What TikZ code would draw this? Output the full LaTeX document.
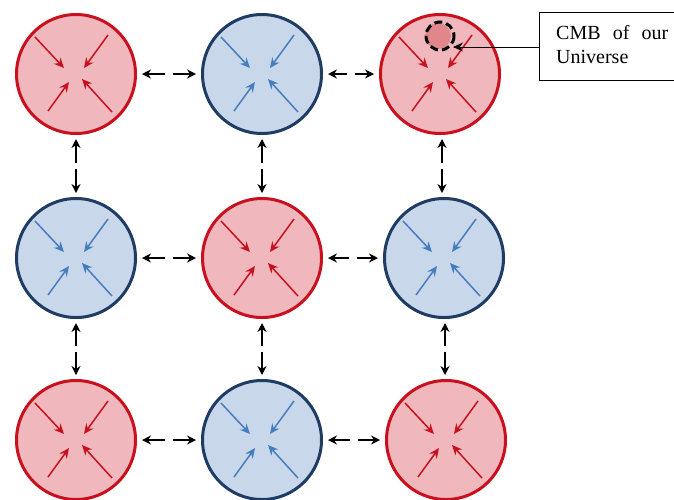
\documentclass[tikz,border=0pt]{standalone}
\usepackage{fontspec}
\setmainfont{Liberation Serif}
\usetikzlibrary{arrows.meta,calc}
\definecolor{redline}{RGB}{200,16,30}
\definecolor{redfill}{RGB}{240,183,188}
\definecolor{redarrow}{RGB}{200,16,30}
\definecolor{blueline}{RGB}{30,60,100}
\definecolor{bluefill}{RGB}{200,216,234}
\definecolor{bluearrow}{RGB}{70,125,190}
\definecolor{cmbfill}{RGB}{225,135,140}
\tikzset{
  redu/.style={circle,draw=redline,fill=redfill,line width=3pt,minimum size=119pt,inner sep=0pt},
  blueu/.style={circle,draw=blueline,fill=bluefill,line width=3pt,minimum size=119pt,inner sep=0pt},
  link/.style={line width=1.4pt,-{Stealth[length=9pt,width=9pt]}},
  inarrow/.style={line width=1.5pt,-{Stealth[length=10pt,width=9pt]}},
  notetext/.style={inner sep=0pt,font=\fontsize{20}{24}\selectfont}
}
\newcommand{\inward}[2]{%
  \draw[inarrow,#2] ($(#1)+(-41,-37)$) -- ($(#1)+(-12,-6)$);
  \draw[inarrow,#2] ($(#1)+(32,-39)$) -- ($(#1)+(8,-6)$);
  \draw[inarrow,#2] ($(#1)+(-28,37)$) -- ($(#1)+(-7,8)$);
  \draw[inarrow,#2] ($(#1)+(36,38)$) -- ($(#1)+(6,5)$);
}
\begin{document}
\begin{tikzpicture}[x=1pt,y=-1pt]
\useasboundingbox (0,0) rectangle (674,499);
\node[redu]  (c11) at (76,74) {};
\node[blueu] (c12) at (262,74) {};
\node[redu]  (c13) at (440,74) {};
\node[blueu] (c21) at (76,258) {};
\node[redu]  (c22) at (262,258) {};
\node[blueu] (c23) at (444,258) {};
\node[redu]  (c31) at (76,440) {};
\node[blueu] (c32) at (262,440) {};
\node[redu]  (c33) at (446,440) {};
\inward{c11}{redarrow}
\inward{c12}{bluearrow}
\inward{c13}{redarrow}
\inward{c21}{bluearrow}
\inward{c22}{redarrow}
\inward{c23}{bluearrow}
\inward{c31}{redarrow}
\inward{c32}{bluearrow}
\inward{c33}{redarrow}
% horizontal links
\foreach \a/\b in {c11/c12,c12/c13,c21/c22,c22/c23,c31/c32,c32/c33}{
  \coordinate (m) at ($(\a.east)!0.5!(\b.west)$);
  \draw[link,shorten >=5pt] ($(m)+(-4,0)$) -- (\a.east |- m);
  \draw[link,shorten >=5pt] ($(m)+(4,0)$) -- (\b.west |- m);
}
% vertical links
\foreach \a/\b in {c11/c21,c12/c22,c13/c23,c21/c31,c22/c32,c23/c33}{
  \coordinate (m) at ($(\a.south)!0.5!(\b.north)$);
  \draw[link,shorten >=4pt] ($(m)+(0,-3)$) -- (m |- \a.south);
  \draw[link,shorten >=4pt] ($(m)+(0,3)$) -- (m |- \b.north);
}
% CMB mark
\node[circle,fill=cmbfill,minimum size=26pt,inner sep=0pt] (cmb) at (438,36) {};
\draw[line width=3pt,dash pattern=on 8pt off 4pt] (440,36) circle (14);
% note box
\node[draw,line width=0.8pt,anchor=north west,minimum width=145pt,minimum height=68pt,inner sep=0pt] (box) at (539,12) {};
\node[notetext,anchor=base west] (t1) at (556,39) {\makebox[112pt][s]{CMB of our}};
\node[notetext,anchor=base west] (t2) at (556,63) {Universe};
\draw[line width=1pt,-{Stealth[length=10pt,width=9pt]}] (box.west |- 0,47) -- (453,47);
\end{tikzpicture}
\end{document}
